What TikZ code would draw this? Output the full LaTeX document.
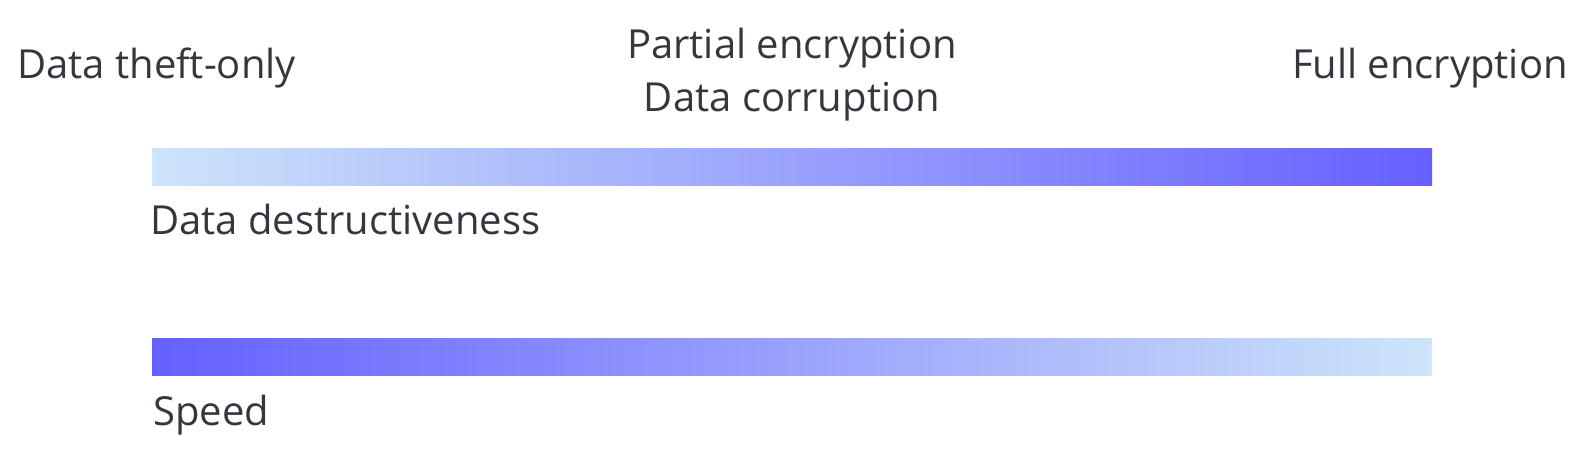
\documentclass[tikz,border=0pt]{standalone}
\usepackage{fontspec}
\setmainfont{Open Sans}
\usepackage{tikz}
\usetikzlibrary{positioning}

\definecolor{barlight}{RGB}{205,228,250}
\definecolor{bardark}{RGB}{102,96,255}
\definecolor{labelgray}{RGB}{52,56,62}

\tikzset{
  bar/.style={rectangle, inner sep=0pt, minimum width=1280pt, minimum height=37pt},
  lbl/.style={inner sep=0pt, text=labelgray, font=\fontsize{40}{53}\selectfont}
}

\begin{document}
\begin{tikzpicture}[x=1pt,y=-1pt]
        \useasboundingbox (0,0) rectangle (1591,451);
        % Bars
        \node[bar, left color=barlight, right color=bardark] (destr) at (792,166.5) {};
        \node[bar, left color=bardark, right color=barlight] (speed) at (792,356.5) {};
        % Labels above the top bar
        \node[lbl, anchor=base west] (theft) at (17,78) {Data theft-only};
        \node[lbl, anchor=base, align=center] (partial) at (792,111) {Partial encryption\\Data corruption};
        \node[lbl, anchor=base east] (full) at (1568,78) {Full encryption};
        % Labels below the bars
        \node[lbl, anchor=base west] (destrlbl) at (150,234) {Data destructiveness};
        \node[lbl, anchor=base west] (speedlbl) at (153,425) {Speed};
    \end{tikzpicture}
\end{document}
